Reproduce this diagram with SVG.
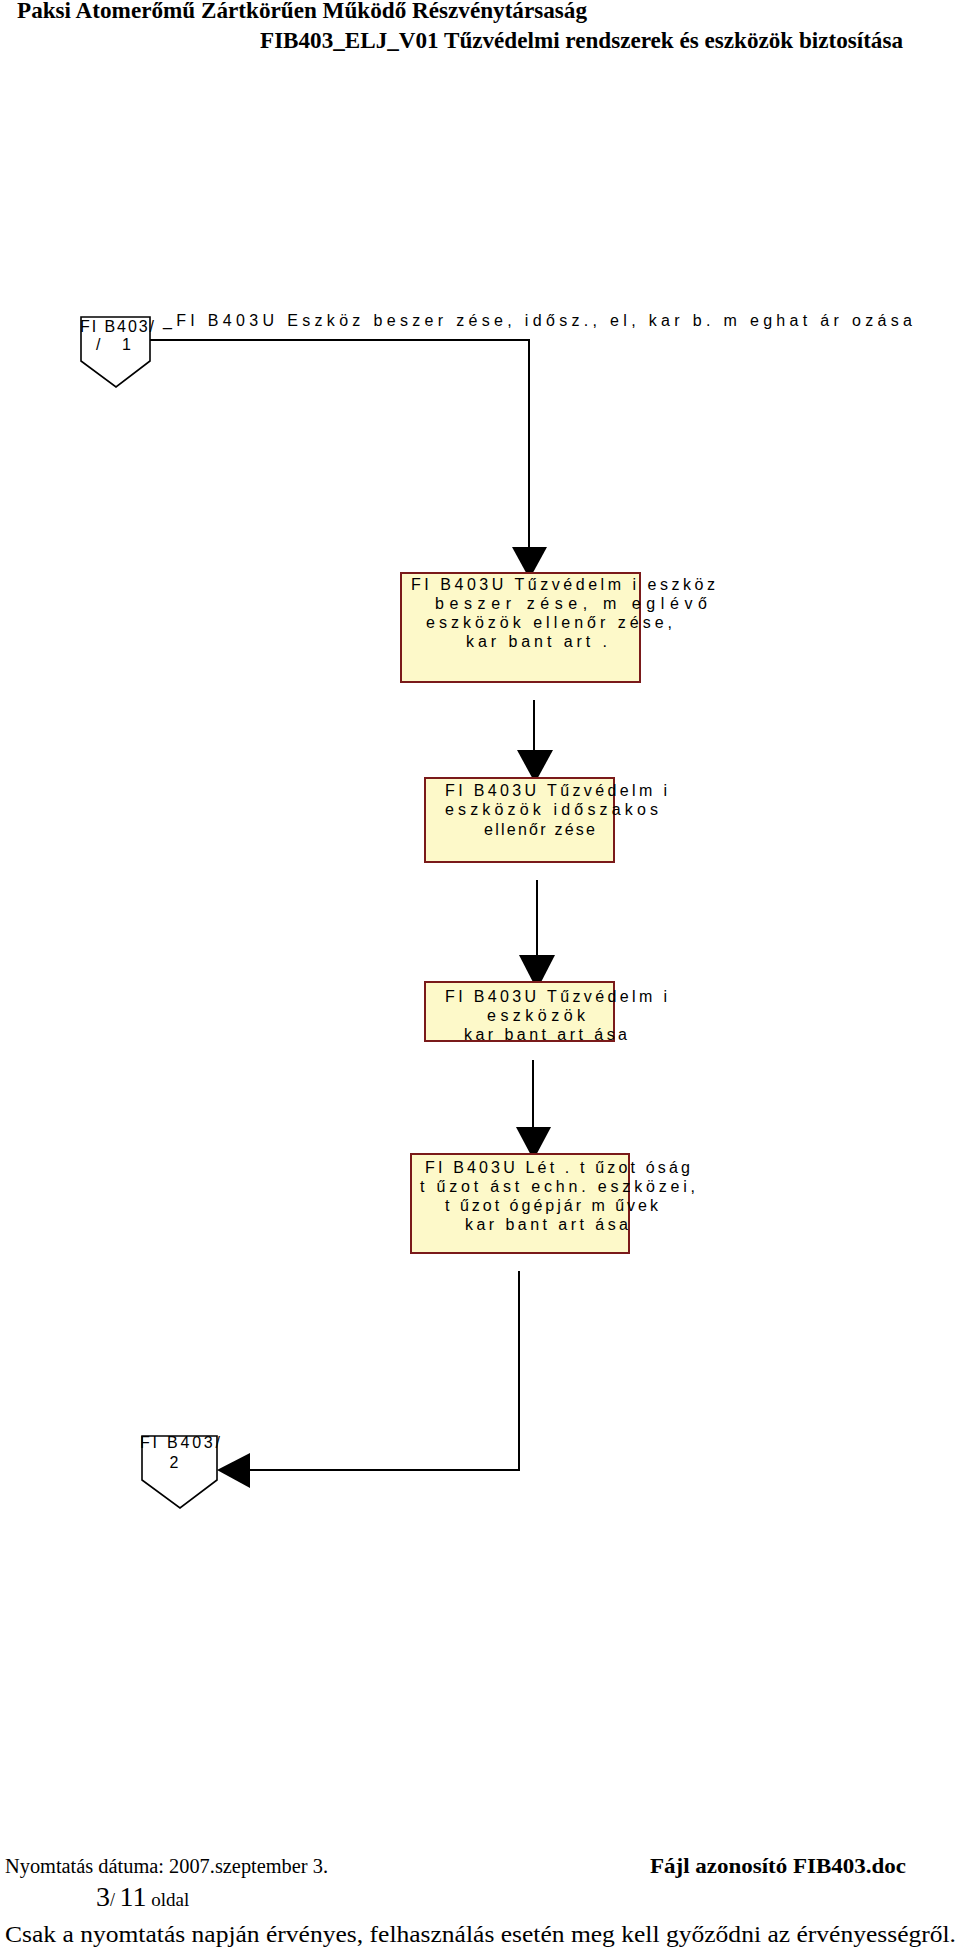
<svg xmlns="http://www.w3.org/2000/svg" width="960" height="1950" viewBox="0 0 960 1950">
<style>
.hdr{font-family:"Liberation Serif","Times New Roman",serif;font-weight:bold;font-size:23px;fill:#000}
.ftr{font-family:"Liberation Serif","Times New Roman",serif;fill:#000}
.t{font-family:"Liberation Sans",Arial,sans-serif;font-size:16px;fill:#000}
.box{fill:#fdf9c9;stroke:#7a1a1a;stroke-width:2}
.pent{fill:#fff;stroke:#000;stroke-width:1.6}
.con{fill:none;stroke:#000;stroke-width:2}
.head{fill:#000;stroke:none}
</style>
<rect x="0" y="0" width="960" height="1950" fill="#fff"/>

<g id="header">
<text class="hdr" x="17" y="18" textLength="570" lengthAdjust="spacingAndGlyphs">Paksi Atomerőmű Zártkörűen Működő Részvénytársaság</text>
<text class="hdr" x="260" y="48" textLength="643" lengthAdjust="spacingAndGlyphs">FIB403_ELJ_V01 Tűzvédelmi rendszerek és eszközök biztosítása</text>
</g>

<g id="connectors">
<polyline class="con" points="150,340 529,340 529,548"/>
<polygon class="head" points="512,547 547,547 529.5,579"/>
<line class="con" x1="534" y1="700" x2="534" y2="751"/>
<polygon class="head" points="517,750 553,750 535,783"/>
<line class="con" x1="537" y1="880" x2="537" y2="956"/>
<polygon class="head" points="519,955 555,955 537,990"/>
<line class="con" x1="533" y1="1060" x2="533" y2="1128"/>
<polygon class="head" points="516,1127 551,1127 533.5,1160"/>
<polyline class="con" points="519,1271 519,1470 249,1470"/>
<polygon class="head" points="250,1453 250,1488 217,1470"/>
</g>

<g id="offpage1">
<polygon class="pent" points="81,317 150,317 150,361 116,387 81,361"/>
<text class="t" x="80" y="332" textLength="74">FI B403/</text>
<text class="t" x="96" y="350" textLength="35">/ 1</text>
</g>

<g id="title">
<text class="t" x="163" y="326" textLength="749">_FI B403U Eszköz beszer zése, idősz., el, kar b. m eghat ár ozása</text>
</g>

<g id="box1">
<rect class="box" x="401" y="573" width="239" height="109"/>
<text class="t" x="411" y="590" textLength="304">FI B403U Tűzvédelm i eszköz</text>
<text class="t" x="435" y="609" textLength="272">beszer zése, m eglévő</text>
<text class="t" x="426" y="628" textLength="246">eszközök ellenőr zése,</text>
<text class="t" x="466" y="647" textLength="141">kar bant art .</text>
</g>

<g id="box2">
<rect class="box" x="425" y="778" width="189" height="84"/>
<text class="t" x="445" y="796" textLength="222">FI B403U Tűzvédelm i</text>
<text class="t" x="445" y="815" textLength="213">eszközök időszakos</text>
<text class="t" x="484" y="835" textLength="111">ellenőr zése</text>
</g>

<g id="box3">
<rect class="box" x="425" y="982" width="189" height="59"/>
<text class="t" x="445" y="1002" textLength="222">FI B403U Tűzvédelm i</text>
<text class="t" x="487" y="1021" textLength="98">eszközök</text>
<text class="t" x="464" y="1040" textLength="163">kar bant art ása</text>
</g>

<g id="box4">
<rect class="box" x="411" y="1154" width="218" height="99"/>
<text class="t" x="425" y="1173" textLength="265">FI B403U Lét . t űzot óság</text>
<text class="t" x="420" y="1192" textLength="275">t űzot ást echn. eszközei,</text>
<text class="t" x="445" y="1211" textLength="213">t űzot ógépjár m űvek</text>
<text class="t" x="465" y="1230" textLength="163">kar bant art ása</text>
</g>

<g id="offpage2">
<polygon class="pent" points="142,1436 217,1436 217,1480 180,1508 142,1480"/>
<text class="t" x="140" y="1448" textLength="80">FI B403/</text>
<text class="t" x="174" y="1468" text-anchor="middle">2</text>
</g>

<g id="footer">
<text class="ftr" x="5" y="1873" font-size="20" textLength="323" lengthAdjust="spacingAndGlyphs">Nyomtatás dátuma: 2007.szeptember 3.</text>
<text class="ftr" x="650" y="1873" font-size="22" font-weight="bold" textLength="256" lengthAdjust="spacingAndGlyphs">Fájl azonosító FIB403.doc</text>
<text class="ftr" x="96" y="1906"><tspan font-size="28">3</tspan><tspan font-size="18">/ </tspan><tspan font-size="28">11</tspan><tspan font-size="19"> oldal</tspan></text>
<text class="ftr" x="5" y="1942" font-size="23" textLength="951" lengthAdjust="spacingAndGlyphs">Csak a nyomtatás napján érvényes, felhasználás esetén meg kell győződni az érvényességről.</text>
</g>
</svg>
